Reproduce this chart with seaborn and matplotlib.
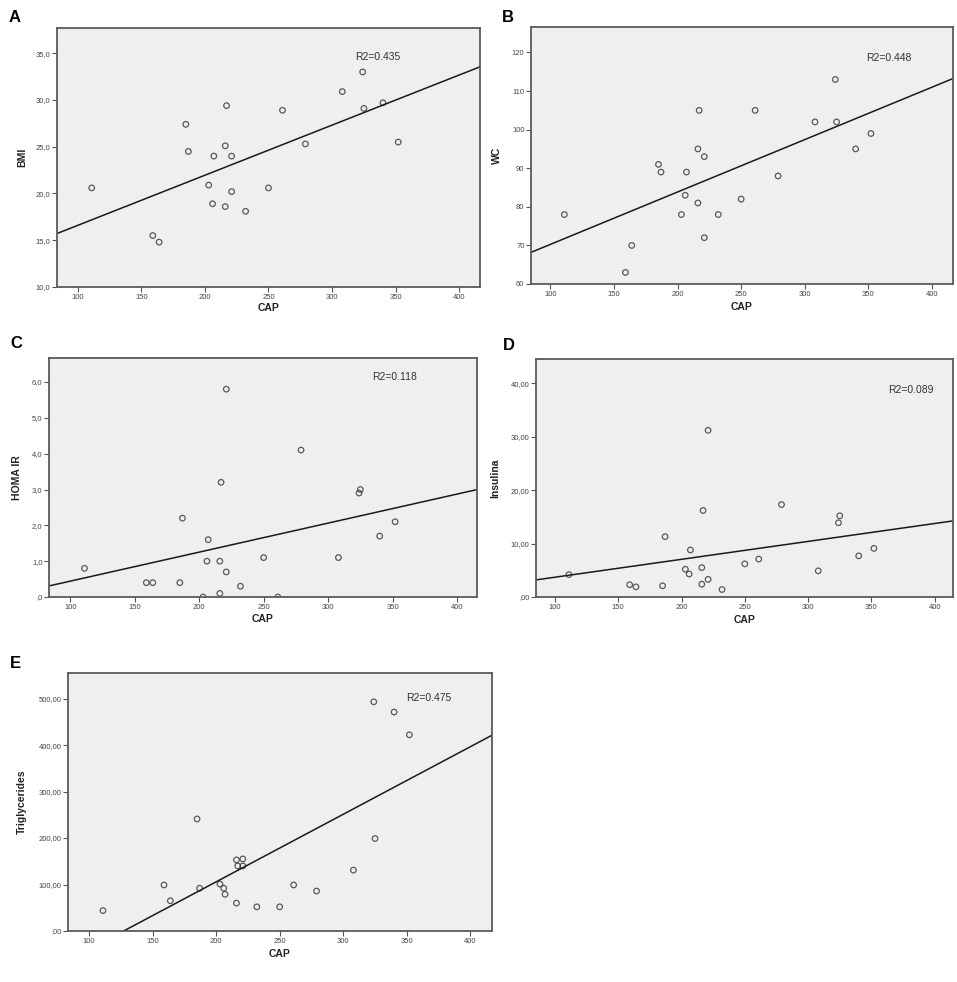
import numpy as np
import pandas as pd
import matplotlib
matplotlib.use("Agg")
import matplotlib.pyplot as plt
from matplotlib.ticker import FuncFormatter, FixedLocator
import seaborn as sns

# ---------------- data ----------------
CAP = [111, 159, 164, 185, 187, 203, 206, 207, 216, 216, 217,
       221, 221, 232, 250, 261, 279, 308, 324, 325, 340, 352]
BMI = [20.6, 15.5, 14.8, 27.4, 24.5, 20.9, 18.9, 24.0, 25.1, 18.6, 29.4,
       24.0, 20.2, 18.1, 20.6, 28.9, 25.3, 30.9, 33.0, 29.1, 29.7, 25.5]
WC = [78, 63, 70, 91, 89, 78, 83, 89, 95, 81, 105,
      93, 72, 78, 82, 105, 88, 102, 113, 102, 95, 99]
HOMA_IR = [0.8, 0.4, 0.4, 0.4, 2.2, 0.0, 1.0, 1.6, 1.0, 0.1, 3.2,
           5.8, 0.7, 0.3, 1.1, 0.0, 4.1, 1.1, 2.9, 3.0, 1.7, 2.1]
INSULINA = [4.2, 2.3, 1.9, 2.1, 11.3, 5.2, 4.3, 8.8, 5.5, 2.4, 16.2,
            31.2, 3.3, 1.4, 6.2, 7.1, 17.3, 4.9, 13.9, 15.2, 7.7, 9.1]
TRIG = [44, 99, 65, 241, 92, 101, 92, 79, 153, 60, 140,
        155, 140, 52, 52, 99, 86, 131, 493, 199, 471, 422]

panel_letters = ["A", "B", "C", "D", "E"]
y_names = ["BMI", "WC", "HOMA IR", "Insulina", "Triglycerides"]
r2_labels = ["R2=0.435", "R2=0.448", "R2=0.118", "R2=0.089", "R2=0.475"]
x_name = "CAP"
x_ticks = [100, 150, 200, 250, 300, 350, 400]
y_ticks = [[10, 15, 20, 25, 30, 35],
           [60, 70, 80, 90, 100, 110, 120],
           [0, 1, 2, 3, 4, 5, 6],
           [0, 10, 20, 30, 40],
           [0, 100, 200, 300, 400, 500]]
y_decimals = [1, 0, 1, 2, 2]
series = [BMI, WC, HOMA_IR, INSULINA, TRIG]

# ---------------- layout ----------------
W, H = 957, 982
# axes boxes in pixels: left, top, right, bottom
boxes = [(57, 28, 480, 287),
         (531, 27, 953, 284),
         (49, 358, 477, 597),
         (536, 359, 953, 597),
         (68, 673, 492, 931)]
xlims = [(83.7, 416.3), (84.8, 416.5), (83.5, 415.5), (85.0, 414.5), (83.5, 417.0)]
ylims = [(10, 37.7), (60, 126.6), (0, 6.67), (0, 44.55), (0, 555)]
r2_pos = [(0.759, 0.888), (0.848, 0.881), (0.808, 0.922), (0.900, 0.868), (0.852, 0.903)]
letter_pos = [(9, 18), (502, 18), (10, 344), (503, 346), (10, 664)]
xlabel_y = [-0.062, -0.070, -0.071, -0.076, -0.070]
ylabel_x = [-0.071, -0.069, -0.063, -0.086, -0.097]

sns.set_style("white")
plt.rcParams["font.family"] = ["Liberation Sans", "DejaVu Sans"]

fig = plt.figure(figsize=(W / 100, H / 100), dpi=100)
fig.patch.set_facecolor("white")

bg = "#efefef"
frame = "#5a5a5a"
tickc = "#555555"


def make_fmt(d):
    def f(v, p):
        s = f"{v:.{d}f}".replace(".", ",")
        if d > 0 and abs(v) < 1:
            s = s.lstrip("0")
        return s
    return f


for i in range(5):
    l, t, r, b = boxes[i]
    ax = fig.add_axes([l / W, 1 - b / H, (r - l) / W, (b - t) / H])
    ax.set_facecolor(bg)
    df = pd.DataFrame({"CAP": CAP, "Y": series[i]})
    ax.set_xlim(*xlims[i])
    ax.set_ylim(*ylims[i])
    sns.regplot(data=df, x="CAP", y="Y", ax=ax, ci=None, truncate=False,
                scatter_kws=dict(s=16, facecolors="none", edgecolors="#333333",
                                 linewidths=0.9),
                line_kws=dict(color="#1a1a1a", lw=1.1))
    ax.set_xlim(*xlims[i])
    ax.set_ylim(*ylims[i])

    ax.xaxis.set_major_locator(FixedLocator(x_ticks))
    ax.yaxis.set_major_locator(FixedLocator(y_ticks[i]))
    ax.yaxis.set_major_formatter(FuncFormatter(make_fmt(y_decimals[i])))
    ax.tick_params(axis="both", which="major", direction="out", length=3.5,
                   width=0.8, color=tickc, labelsize=5.5, labelcolor="#444444",
                   pad=1.2, left=True, bottom=True, top=False, right=False)
    for sp in ax.spines.values():
        sp.set_visible(True)
        sp.set_color(frame)
        sp.set_linewidth(1.3)

    ax.set_xlabel(x_name, fontsize=7.5, fontweight="bold", color="#222222")
    ax.set_ylabel(y_names[i], fontsize=7.5, fontweight="bold", color="#222222")
    ax.xaxis.set_label_coords(0.5, xlabel_y[i])
    ax.yaxis.set_label_coords(ylabel_x[i], 0.5)

    ax.text(r2_pos[i][0], r2_pos[i][1], r2_labels[i], transform=ax.transAxes,
            ha="center", va="center", fontsize=7.5, color="#333333")

    lx, ly = letter_pos[i]
    fig.text(lx / W, 1 - ly / H, panel_letters[i], ha="left", va="center",
             fontsize=12, fontweight="bold", color="black")

fig.savefig("out.png", dpi=100)
